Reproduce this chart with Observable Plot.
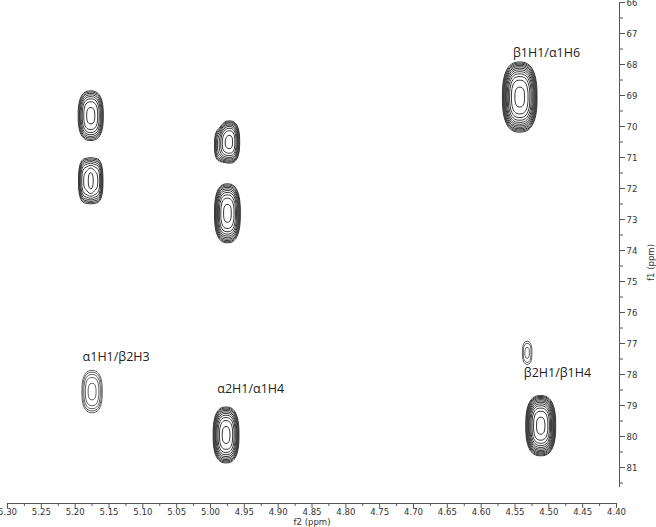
<!DOCTYPE html>
<html>
<head>
<meta charset="utf-8">
<script src="https://cdn.jsdelivr.net/npm/d3@7"></script>
<script src="https://cdn.jsdelivr.net/npm/@observablehq/plot@0.6"></script>
<style>
  html, body { margin: 0; padding: 0; background: #fff; }
  #chart svg { display: block; }
</style>
</head>
<body>
<div id="chart"></div>
<script>
// ---- Axis domains and ticks ----
const f2Domain = [5.30, 4.40];          // horizontal (ppm), reversed
const f1Domain = [66, 82.16];           // vertical (ppm), increasing downward
const f1AxisEnd = 81.65;
const f2Major = [5.30, 5.25, 5.20, 5.15, 5.10, 5.05, 5.00, 4.95, 4.90, 4.85, 4.80, 4.75, 4.70, 4.65, 4.60, 4.55, 4.50, 4.45, 4.40];
const f2Minor = [5.275, 5.225, 5.175, 5.125, 5.075, 5.025, 4.975, 4.925, 4.875, 4.825, 4.775, 4.725, 4.675, 4.625, 4.575, 4.525, 4.475, 4.425];
const f1Major = [66, 67, 68, 69, 70, 71, 72, 73, 74, 75, 76, 77, 78, 79, 80, 81];
const f1Minor = [66.5, 67.5, 68.5, 69.5, 70.5, 71.5, 72.5, 73.5, 74.5, 75.5, 76.5, 77.5, 78.5, 79.5, 80.5, 81.5];

// ---- Cross peaks ----
const peakF2 =      [5.177, 5.1835, 5.1705, 4.986, 4.972, 4.975, 4.543, 4.532, 4.512, 5.175, 4.977];
const peakF1 =      [69.65, 71.75, 71.75, 70.60, 70.50, 72.80, 69.05, 77.30, 79.65, 78.55, 79.95];
const peakF2Half =  [0.0185, 0.0115, 0.0115, 0.0080, 0.0150, 0.0190, 0.0255, 0.0070, 0.0220, 0.0150, 0.0190];
const peakF1Half =  [0.80, 0.72, 0.72, 0.50, 0.68, 0.95, 1.13, 0.37, 0.97, 0.68, 0.90];
const peakLevels =  [7, 6, 6, 4, 8, 9, 11, 2, 11, 4, 9];
const peakTone =    ["dark", "dark", "dark", "dark", "dark", "dark", "dark", "light", "dark", "light", "dark"];

// ---- Annotations ----
const labels = ["β1H1/α1H6", "α1H1/β2H3", "α2H1/α1H4", "β2H1/β1H4"];
const labelF2 = [4.553, 5.189, 4.990, 4.537];
const labelF1 = [67.63, 77.44, 78.47, 77.95];

// contour levels (geometric, as in NMR plotting software)
const ratio = 1.35;
const thresholds = d3.range(0, 18).map(k => Math.pow(ratio, k));
const shapeExp = 2.6;
const amp = peakLevels.map(n => Math.pow(ratio, n) * 1.08);
const rho0 = amp.map(a => Math.cbrt(Math.log(a)));
const sx = peakF2Half.map((h, i) => h / rho0[i]);
const sy = peakF1Half.map((h, i) => h / rho0[i]);

function intensityOf(tone) {
  const idx = d3.range(peakF2.length).filter(i => peakTone[i] === tone);
  return (x, y) => {
    let s = 0;
    for (const i of idx) {
      const u = Math.abs((x - peakF2[i]) / sx[i]);
      const v = Math.abs((y - peakF1[i]) / sy[i]);
      if (u > 4 || v > 4) continue;
      const r = Math.pow(Math.pow(u, shapeExp) + Math.pow(v, shapeExp), 1 / shapeExp);
      s += amp[i] * Math.exp(-r * r * r);
    }
    return s;
  };
}

const tickFont = "'Liberation Sans Narrow', 'DejaVu Sans Condensed', 'Liberation Sans', sans-serif";
const fmt = d => d.toFixed(2);

const chart = Plot.plot({
  width: 656,
  height: 527,
  marginLeft: 7,
  marginRight: 40,
  marginTop: 2,
  marginBottom: 24,
  x: {domain: f2Domain},
  y: {domain: f1Domain, reverse: true},
  style: {fontFamily: tickFont, fontSize: "9.5px", color: "#333", background: "#fff"},
  marks: [
    Plot.contour({
      value: intensityOf("dark"),
      x1: f2Domain[0], x2: f2Domain[1], y1: f1Domain[0], y2: f1Domain[1],
      thresholds, pixelSize: 1,
      fill: "none", stroke: "#3a3a3a", strokeWidth: 1
    }),
    Plot.contour({
      value: intensityOf("light"),
      x1: f2Domain[0], x2: f2Domain[1], y1: f1Domain[0], y2: f1Domain[1],
      thresholds, pixelSize: 1,
      fill: "none", stroke: "#666", strokeWidth: 1
    }),
    Plot.text(labels, {
      x: (d, i) => labelF2[i], y: (d, i) => labelF1[i],
      text: d => d, textAnchor: "start",
      fontFamily: "'Open Sans', 'Noto Sans', sans-serif", fontSize: 12.5, fill: "#222"
    }),
    // x axis
    Plot.ruleY([f1Domain[1]], {x1: f2Domain[0], x2: f2Domain[1], stroke: "#555"}),
    Plot.axisX(f2Major, {anchor: "bottom", tickSize: 5, tickPadding: 0, tickFormat: fmt, label: null, stroke: "#555"}),
    Plot.axisX(f2Minor, {anchor: "bottom", tickSize: 3, tickFormat: () => "", label: null, stroke: "#555"}),
    Plot.text(["f2 (ppm)"], {frameAnchor: "bottom", dy: 21, text: d => d}),
    // y axis (right)
    Plot.ruleX([f2Domain[1]], {y1: f1Domain[0], y2: f1AxisEnd, dx: 3, stroke: "#555"}),
    Plot.axisY(f1Major, {anchor: "right", tickSize: 5, tickPadding: 2, dx: 3, label: null, stroke: "#555"}),
    Plot.axisY(f1Minor, {anchor: "right", tickSize: 3, tickFormat: () => "", dx: 3, label: null, stroke: "#555"}),
    Plot.text(["f1 (ppm)"], {frameAnchor: "right", dx: 34, dy: -9, rotate: -90, text: d => d})
  ]
});
document.getElementById("chart").appendChild(chart);
</script>
</body>
</html>
